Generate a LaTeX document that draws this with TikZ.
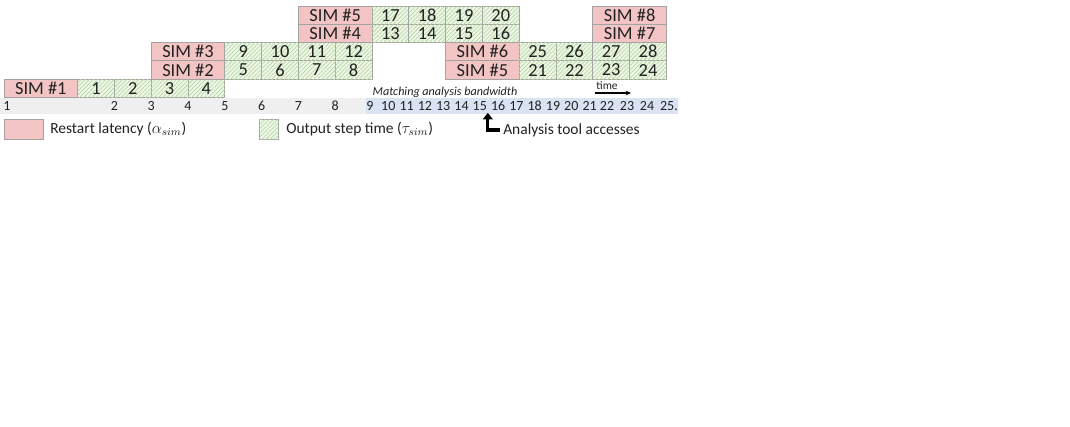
\documentclass[tikz,border=0pt]{standalone}
\usepackage{fontspec}
\setmainfont{Carlito}
\usetikzlibrary{patterns.meta,arrows.meta}
\definecolor{simpink}{HTML}{F3C4C4}
\definecolor{greenbg}{HTML}{EEF7E8}
\definecolor{greenln}{HTML}{B8DAA5}
\definecolor{cellbd}{HTML}{A3A3A3}
\definecolor{graybar}{HTML}{EFEFEF}
\definecolor{bluebar}{HTML}{DAE3F3}
\definecolor{txt}{HTML}{222222}
\newcommand\simat[4]{\node[simbox] (#1) at ({40.8+36.8*#2},{15.15+18.3*#3}) {#4};}
\newcommand\outrow[3]{\foreach \i in {0,...,3}{\pgfmathtruncatemacro\nn{#1+\i}\node[outbox] (o\nn) at ({22.4+36.8*(#2+\i)},{15.15+18.3*#3}) {\nn};}}
\begin{document}
\begin{tikzpicture}[x=0.75pt,y=-0.75pt,
  cellbase/.style={draw=cellbd, line width=0.75pt, inner sep=0pt, minimum height=13.7pt,
    font=\fontsize{13.8}{16}\selectfont, text=txt},
  simbox/.style={cellbase, fill=simpink, minimum width=55.2pt},
  hatch/.style={postaction={pattern={Lines[angle=45,distance=2.2pt,line width=0.55pt]}, pattern color=greenln}},
  outbox/.style={cellbase, fill=greenbg, hatch, minimum width=27.6pt},
  tl/.style={inner sep=0pt, font=\fontsize{10.5}{12}\selectfont, text=txt},
  legtxt/.style={inner sep=0pt, anchor=west, font=\fontsize{11.6}{13}\selectfont, text=txt},
  legbox/.style={draw=cellbd, line width=0.75pt, inner sep=0pt, minimum width=29.25pt, minimum height=15pt}]
\useasboundingbox (0,0) rectangle (1070,426);
\fill[white] (0,0) rectangle (1070,426);
% timeline bands
\fill[graybar] (0,98) rectangle (366,114);
\fill[bluebar] (366,98) rectangle (678,114);
% SIM boxes and output steps
\simat{s1}{0}{4}{SIM \#1}
\outrow{1}{2}{4}
\simat{s2}{4}{3}{SIM \#2}
\outrow{5}{6}{3}
\simat{s3}{4}{2}{SIM \#3}
\outrow{9}{6}{2}
\simat{s4}{8}{1}{SIM \#4}
\outrow{13}{10}{1}
\simat{s5a}{8}{0}{SIM \#5}
\outrow{17}{10}{0}
\simat{s5b}{12}{3}{SIM \#5}
\outrow{21}{14}{3}
\simat{s6}{12}{2}{SIM \#6}
\outrow{25}{14}{2}
\simat{s7}{16}{1}{SIM \#7}
\simat{s8}{16}{0}{SIM \#8}
% timeline numbers
\node[tl] (t1) at (7,106) {1};
\foreach \n in {2,...,8} \node[tl] (t\n) at ({4+36.8*(\n+1)},106) {\n};
\foreach \n in {9,...,21} \node[tl] (t\n) at ({370+18.3*(\n-9)},106) {\n};
\node[tl] (t22) at (607,106) {22};
\node[tl] (t23) at (627,106) {23};
\node[tl] (t24) at (647,106) {24};
\node[tl] (t25) at (669,106) {25.};
% annotations
\node[inner sep=0pt, font=\itshape\fontsize{9.1}{10}\selectfont, text=txt] (mab) at (445,92) {Matching analysis bandwidth};
\node[inner sep=0pt, font=\fontsize{8.6}{10}\selectfont, text=txt] (tm) at (607,86) {time};
\coordinate (ta) at (595,93);
\coordinate (tb) at (631,93);
\draw[line width=0.8pt, -{Stealth[length=4pt,width=3.5pt]}] (ta) -- (tb);
% legend
\node[legbox, fill=simpink] (lp) at (23.5,129.5) {};
\node[legtxt] (lpt) at (50,129) {Restart latency ($\alpha_{sim}$)};
\node[legbox, fill=greenbg, minimum width=14.6pt, hatch] (lg) at (269,129.5) {};
\node[legtxt] (lgt) at (286,129) {Output step time ($\tau_{sim}$)};
\node[legtxt] (acc) at (503,130) {Analysis tool accesses};
\draw[line width=2.3pt, -{Triangle[length=5pt,width=7.5pt]}] ([xshift=-2.5pt]acc.west) -| ([xshift=6pt,yshift=-1.5pt]t15.south);
\end{tikzpicture}
\end{document}
